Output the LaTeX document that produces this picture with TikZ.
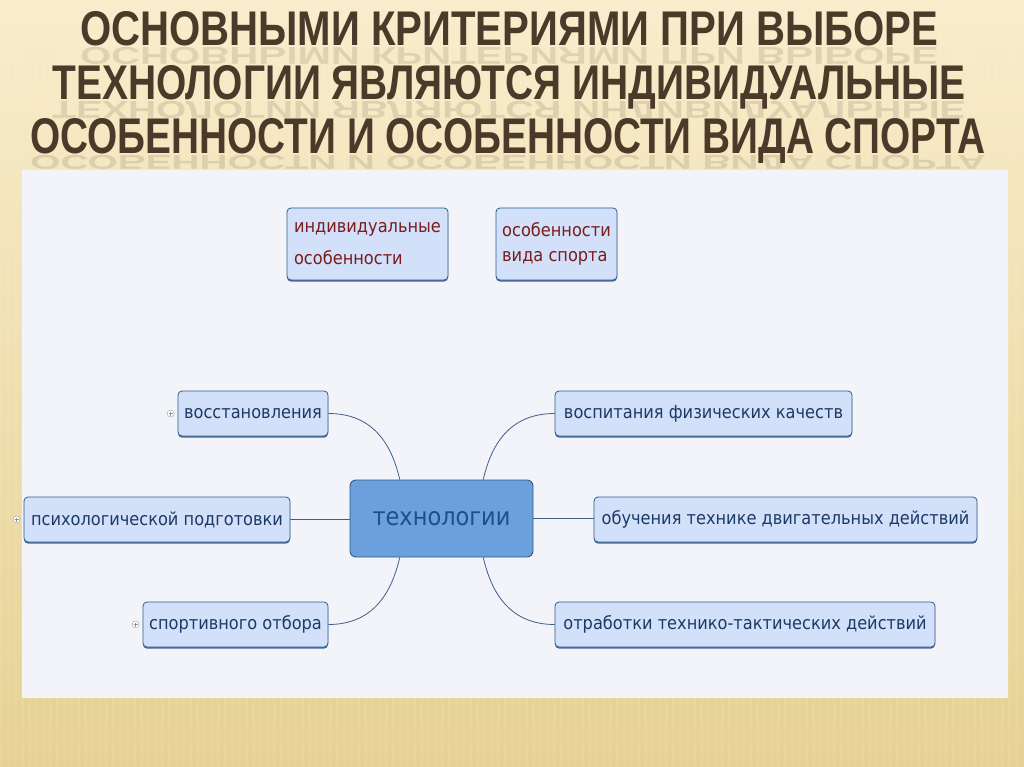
\documentclass[tikz,border=0pt]{standalone}
\usepackage{fontspec}
\usepackage{graphicx}
\setmainfont{DejaVu Sans}[FakeStretch=0.9]
\newfontfamily\titlefont{Liberation Sans}
\usetikzlibrary{shadows,calc}
\definecolor{bgtop}{HTML}{F8EDCB}
\definecolor{bgbot}{HTML}{E7D192}
\definecolor{panelc}{HTML}{F2F4FA}
\definecolor{boxc}{HTML}{D2E0FA}
\definecolor{edgec}{HTML}{2F5A8A}
\definecolor{txtc}{HTML}{1C3A66}
\definecolor{redtxt}{HTML}{7A1C1C}
\definecolor{techc}{HTML}{6BA0DD}
\definecolor{techtxt}{HTML}{1D4F8C}
\definecolor{titlec}{HTML}{4B3A2A}
\definecolor{connc}{HTML}{3F5F86}
\tikzset{
  titleline/.style={anchor=base, inner sep=0pt, text=titlec},
  reflect/.style={anchor=base, inner sep=0pt, text=titlec, text opacity=0.14},
  sub/.style={draw=edgec, fill=boxc, rounded corners=4pt, line width=0.8pt,
    font=\fontsize{18}{21}\selectfont, text=txtc, inner sep=0pt, align=center,
    minimum height=45pt,
    drop shadow={shadow xshift=0pt, shadow yshift=-1.6pt, fill=edgec, opacity=0.9}},
  crit/.style={sub, text=redtxt, align=left, minimum height=72pt},
  techbox/.style={draw=edgec, fill=techc, rounded corners=6pt, line width=0.9pt,
    font=\fontsize{25}{28}\selectfont, text=techtxt, inner sep=0pt,
    minimum width=183pt, minimum height=77pt},
  conn/.style={draw=connc, line width=0.8pt},
  plusc/.style={circle, draw=gray!75, fill=white, minimum size=7pt, inner sep=0pt,
    line width=0.4pt,
    path picture={\draw[gray!85, line width=0.5pt]
      ([xshift=-2pt]path picture bounding box.center) -- ([xshift=2pt]path picture bounding box.center)
      ([yshift=-2pt]path picture bounding box.center) -- ([yshift=2pt]path picture bounding box.center);}},
}
\begin{document}
\begin{tikzpicture}[x=1pt, y=-1pt]
\useasboundingbox (0,0) rectangle (1024,767);
% background
\shade[top color=bgtop, bottom color=bgbot] (0,0) rectangle (1024,767);
\foreach \i in {0,7,...,1020}{
  \fill[white, opacity=0.07] (\i,0) rectangle ++(3,767);
}
% panel
\fill[panelc] (22,170) rectangle (1008,698);
% title
\node[reflect] (r1) at (509,48) {\scalebox{1}[-0.5]{\resizebox{858pt}{34pt}{\titlefont\bfseries ОСНОВНЫМИ КРИТЕРИЯМИ ПРИ ВЫБОРЕ}}};
\node[titleline] (t1) at (509,46) {\resizebox{858pt}{34pt}{\titlefont\bfseries ОСНОВНЫМИ КРИТЕРИЯМИ ПРИ ВЫБОРЕ}};
\node[reflect] (r2) at (509,102) {\scalebox{1}[-0.5]{\resizebox{913pt}{34pt}{\titlefont\bfseries ТЕХНОЛОГИИ ЯВЛЯЮТСЯ ИНДИВИДУАЛЬНЫЕ}}};
\node[titleline] (t2) at (509,100) {\resizebox{913pt}{34pt}{\titlefont\bfseries ТЕХНОЛОГИИ ЯВЛЯЮТСЯ ИНДИВИДУАЛЬНЫЕ}};
\node[reflect] (r3) at (508,156) {\scalebox{1}[-0.4]{\resizebox{955pt}{35pt}{\titlefont\bfseries ОСОБЕННОСТИ И ОСОБЕННОСТИ ВИДА СПОРТА}}};
\node[titleline] (t3) at (508,154) {\resizebox{955pt}{35pt}{\titlefont\bfseries ОСОБЕННОСТИ И ОСОБЕННОСТИ ВИДА СПОРТА}};
% criteria boxes
\node[crit, minimum width=161pt, font=\fontsize{18}{32}\selectfont] (ind) at (367.5,244) {индивидуальные\\особенности};
\node[crit, minimum width=121pt, font=\fontsize{18}{25}\selectfont] (osb) at (556.5,244) {особенности\\вида спорта};
% central node
\node[techbox] (tech) at (441.5,518.5) {технологии};
% branches
\node[sub, minimum width=150pt] (vos) at (253,413.5) {восстановления};
\node[sub, minimum width=266pt] (psy) at (157,519.5) {психологической подготовки};
\node[sub, minimum width=185pt] (spo) at (235.5,624.5) {спортивного отбора};
\node[sub, minimum width=297pt] (vfk) at (703.5,413.5) {воспитания физических качеств};
\node[sub, minimum width=383pt] (otd) at (785.5,519.5) {обучения технике двигательных действий};
\node[sub, minimum width=380pt] (ott) at (745,624.5) {отработки технико-тактических действий};
% plus markers
\node[plusc] (pv) at ([xshift=-7pt]vos.west) {};
\node[plusc] (pp) at ([xshift=-7pt]psy.west) {};
\node[plusc] (ps) at ([xshift=-7pt]spo.west) {};
% connectors
\draw[conn] (vos.east) .. controls +(45,0) and +(-8,-35) .. (tech.137);
\draw[conn] (spo.east) .. controls +(45,0) and +(-8,35) .. (tech.223);
\draw[conn] (vfk.west) .. controls +(-45,0) and +(8,-35) .. (tech.43);
\draw[conn] (ott.west) .. controls +(-45,0) and +(8,35) .. (tech.317);
\draw[conn] (psy.east) -- (psy.east -| tech.west);
\draw[conn] (tech.east) -- (tech.east -| otd.west);
\end{tikzpicture}
\end{document}
